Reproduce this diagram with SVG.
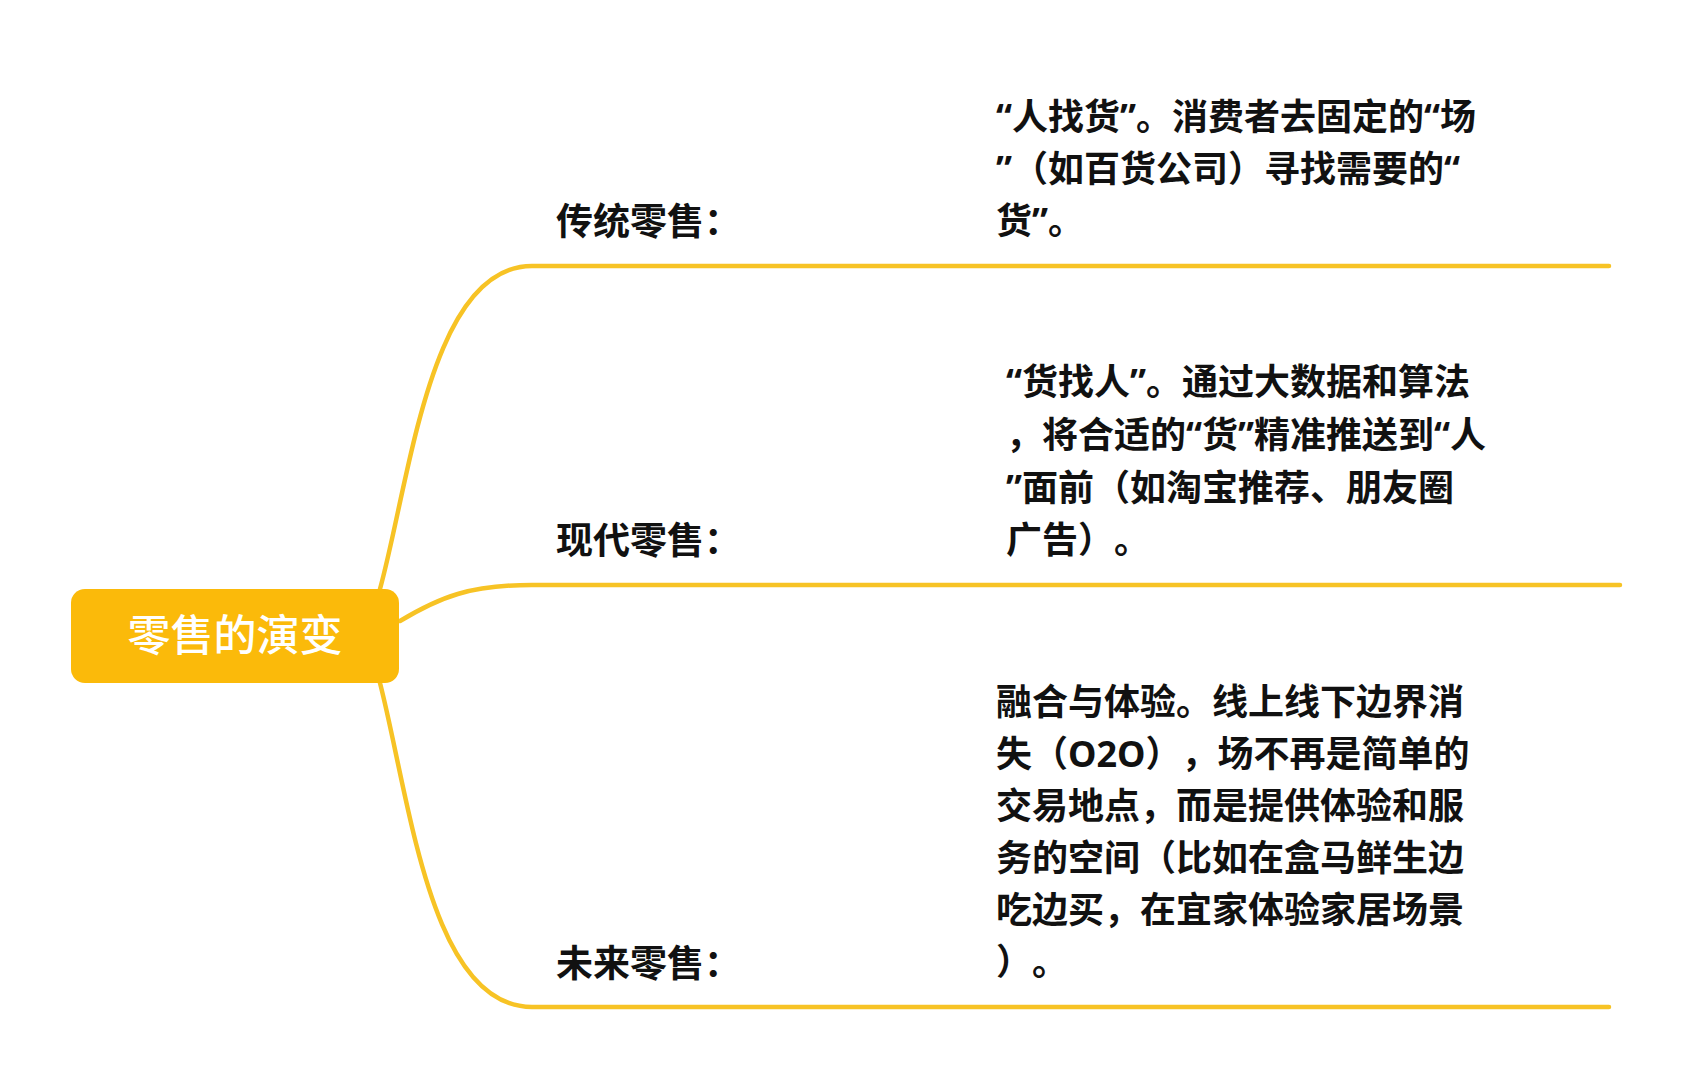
<svg xmlns="http://www.w3.org/2000/svg" width="1694" height="1080" viewBox="0 0 1694 1080">
<style>
.br{fill:none;stroke:#F7C325;stroke-width:4.5;stroke-linecap:round}
.lbl{font-family:"Noto Sans CJK SC","Noto Sans",sans-serif;font-weight:700;font-size:37px;fill:#111}
.desc{font-family:"Noto Sans","Noto Sans CJK SC",sans-serif;font-weight:700;font-size:36px;fill:#111;text-spacing-trim:space-all}
.root{font-family:"Noto Sans CJK SC","Noto Sans",sans-serif;font-weight:500;font-size:43px;fill:#fff}
</style>
<rect width="1694" height="1080" fill="#fff"/>
<g id="connectors">
<path class="br" d="M380 589 C410 480 430 266 532 266 L1609 266"/>
<path class="br" d="M400 621 C440 597 470 585 532 585 L1620 585"/>
<path class="br" d="M380 683 C410 800 430 1007 532 1007 L1609 1007"/>
</g>
<g id="root">
<rect x="71" y="589" width="328" height="94" rx="14" fill="#FBBA0A"/>
<text class="root" x="235" y="651" text-anchor="middle">零售的演变</text>
</g>
<g id="n1">
<text class="lbl" x="556" y="235">传统零售：</text>
<text class="desc" x="996" y="130">“人找货”。消费者去固定的“场</text>
<text class="desc" x="996" y="182">”（如百货公司）寻找需要的“</text>
<text class="desc" x="996" y="234">货”。</text>
</g>
<g id="n2">
<text class="lbl" x="556" y="554">现代零售：</text>
<text class="desc" x="1006" y="395">“货找人”。通过大数据和算法</text>
<text class="desc" x="1006" y="448">，将合适的“货”精准推送到“人</text>
<text class="desc" x="1006" y="501">”面前（如淘宝推荐、朋友圈</text>
<text class="desc" x="1006" y="553">广告）。</text>
</g>
<g id="n3">
<text class="lbl" x="556" y="977">未来零售：</text>
<text class="desc" x="996" y="715">融合与体验。线上线下边界消</text>
<text class="desc" x="996" y="767">失（O2O），场不再是简单的</text>
<text class="desc" x="996" y="819">交易地点，而是提供体验和服</text>
<text class="desc" x="996" y="871">务的空间（比如在盒马鲜生边</text>
<text class="desc" x="996" y="923">吃边买，在宜家体验家居场景</text>
<text class="desc" x="996" y="975">）。</text>
</g>
</svg>
